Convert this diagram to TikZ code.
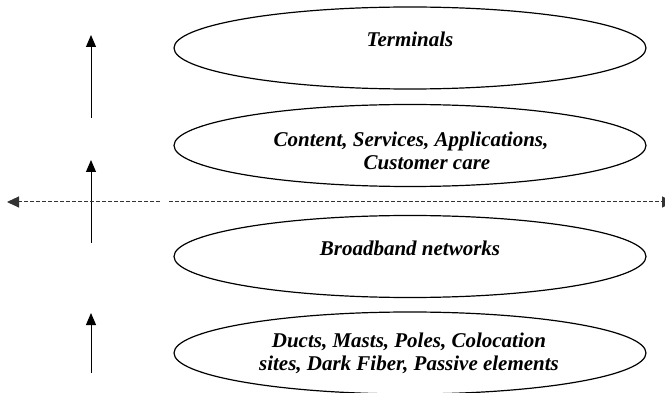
\documentclass[tikz,border=0pt]{standalone}
\usepackage{fontspec}
\setmainfont{Liberation Serif}
\usetikzlibrary{shapes.geometric,arrows.meta}
\tikzset{
  layer/.style={draw, ellipse, line width=1.2pt, minimum width=472pt, minimum height=82pt, inner sep=0pt},
  layertext/.style={font=\fontsize{21}{23}\selectfont\bfseries\itshape, align=center, inner sep=0pt},
  uparrow/.style={line width=1pt, -{Triangle[length=12pt,width=10pt]}},
  divider/.style={line width=1pt, black!80, dash pattern=on 4pt off 2pt, -{Triangle[length=12pt,width=11pt]}}
}
\begin{document}
\begin{tikzpicture}[x=1pt,y=-1pt]
\clip (0,0) rectangle (665,393);
\fill[white] (0,0) rectangle (665,393);
% layers
\node[layer] (e1) at (410,48) {};
\node[layer] (e2) at (410,145.5) {};
\node[layer] (e3) at (410,256.5) {};
\node[layer] (e4) at (410,353) {};
\node[layertext] (t1) at (410,39) {Terminals};
\node[layertext] (t2) at (411,151) {Content, Services, Applications,\\\hspace*{32pt}Customer care};
\node[layertext] (t3) at (410,248) {Broadband networks};
\node[layertext] (t4) at (409,353) {Ducts, Masts, Poles, Colocation\\sites, Dark Fiber, Passive elements};
% vertical arrows
\coordinate (a1s) at (91,118);
\coordinate (a1e) at (91,35);
\coordinate (a2s) at (91,243);
\coordinate (a2e) at (91,160);
\coordinate (a3s) at (91,373);
\coordinate (a3e) at (91,313);
\draw[uparrow] (a1s) -- (a1e);
\draw[uparrow] (a2s) -- (a2e);
\draw[uparrow] (a3s) -- (a3e);
% dashed divider
\coordinate (dls) at (160,202);
\coordinate (dle) at (7,202);
\coordinate (drs) at (169,202);
\coordinate (dre) at (674,202);
\draw[divider] (dls) -- (dle);
\draw[divider] (drs) -- (dre);
\end{tikzpicture}
\end{document}
